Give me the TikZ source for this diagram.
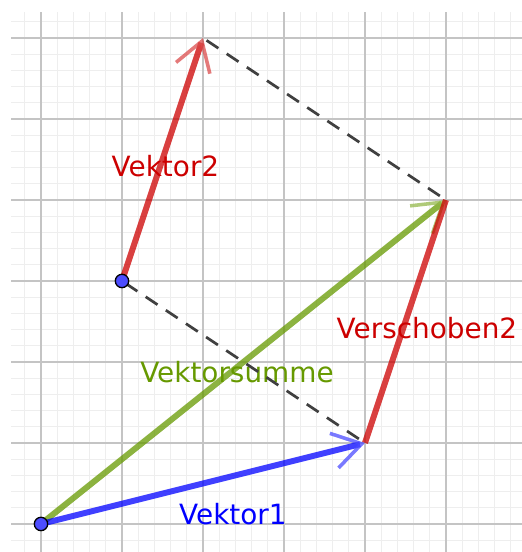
\documentclass[tikz,border=0pt]{standalone}
\usepackage{fontspec}
\setmainfont{DejaVu Sans}
\usetikzlibrary{arrows.meta}
\definecolor{gridminor}{HTML}{EEEEEE}
\definecolor{gridmajor}{HTML}{C4C4C4}
\definecolor{vblue}{RGB}{0,0,255}
\definecolor{vred}{RGB}{204,0,0}
\definecolor{vgreen}{RGB}{102,153,0}
\definecolor{dashgray}{HTML}{404040}
\definecolor{ptblue}{RGB}{77,77,255}
\begin{document}
\begin{tikzpicture}[
  vec/.style={line width=2.1pt, draw opacity=0.75, line cap=butt},
  vtip/.style={-{Straight Barb[length=0.35cm,width=0.44cm,line width=1.25pt,color=#1]}},
  helper/.style={dashgray, line width=0.95pt, dash pattern=on 5pt off 3.5pt, dash phase=-1.5pt},
  pt/.style={circle, fill=ptblue, draw=black, line width=0.45pt, inner sep=0pt, minimum size=0.165cm},
  lbl/.style={font=\fontsize{9.8pt}{11pt}\selectfont, anchor=base, inner sep=0pt}
]
\useasboundingbox (-0.506,-0.346) rectangle (5.938,6.469);
\draw[gridminor, line width=0.35pt, step=0.2] (-0.37,-0.346) grid (5.938,6.321);
\draw[gridmajor, line width=0.5pt, step=1] (-0.37,-0.346) grid (5.938,6.321);

\coordinate (A) at (4,1);
\coordinate (C) at (2,6);
\coordinate (S) at (5,4);
\coordinate (O0) at (0,0);
\coordinate (B0) at (1,3);

% labels
\node[lbl, text=vred] (l2) at (1.537,4.296) {Vektor2};
\node[lbl, text=vgreen] (ls) at (2.42,1.741) {Vektorsumme};
\node[lbl, text=vred] (lv) at (4.765,2.296) {Verschoben2};
\node[lbl, text=vblue] (l1) at (2.37,-0.012) {Vektor1};

% helper lines
\draw[helper] (B0) -- (A);
\draw[helper] (C) -- (S);

% vectors
\draw[vec, vgreen, vtip={vgreen!70!white}] (O0) -- (S);
\draw[vec, vred] (A) -- (S);
\draw[vec, vblue, vtip={vblue!70!white}] (O0) -- (A);
\draw[vec, vred, vtip={vred!70!white}] (B0) -- (C);

% points
\node[pt] (O) at (O0) {};
\node[pt] (B) at (B0) {};
\end{tikzpicture}
\end{document}
